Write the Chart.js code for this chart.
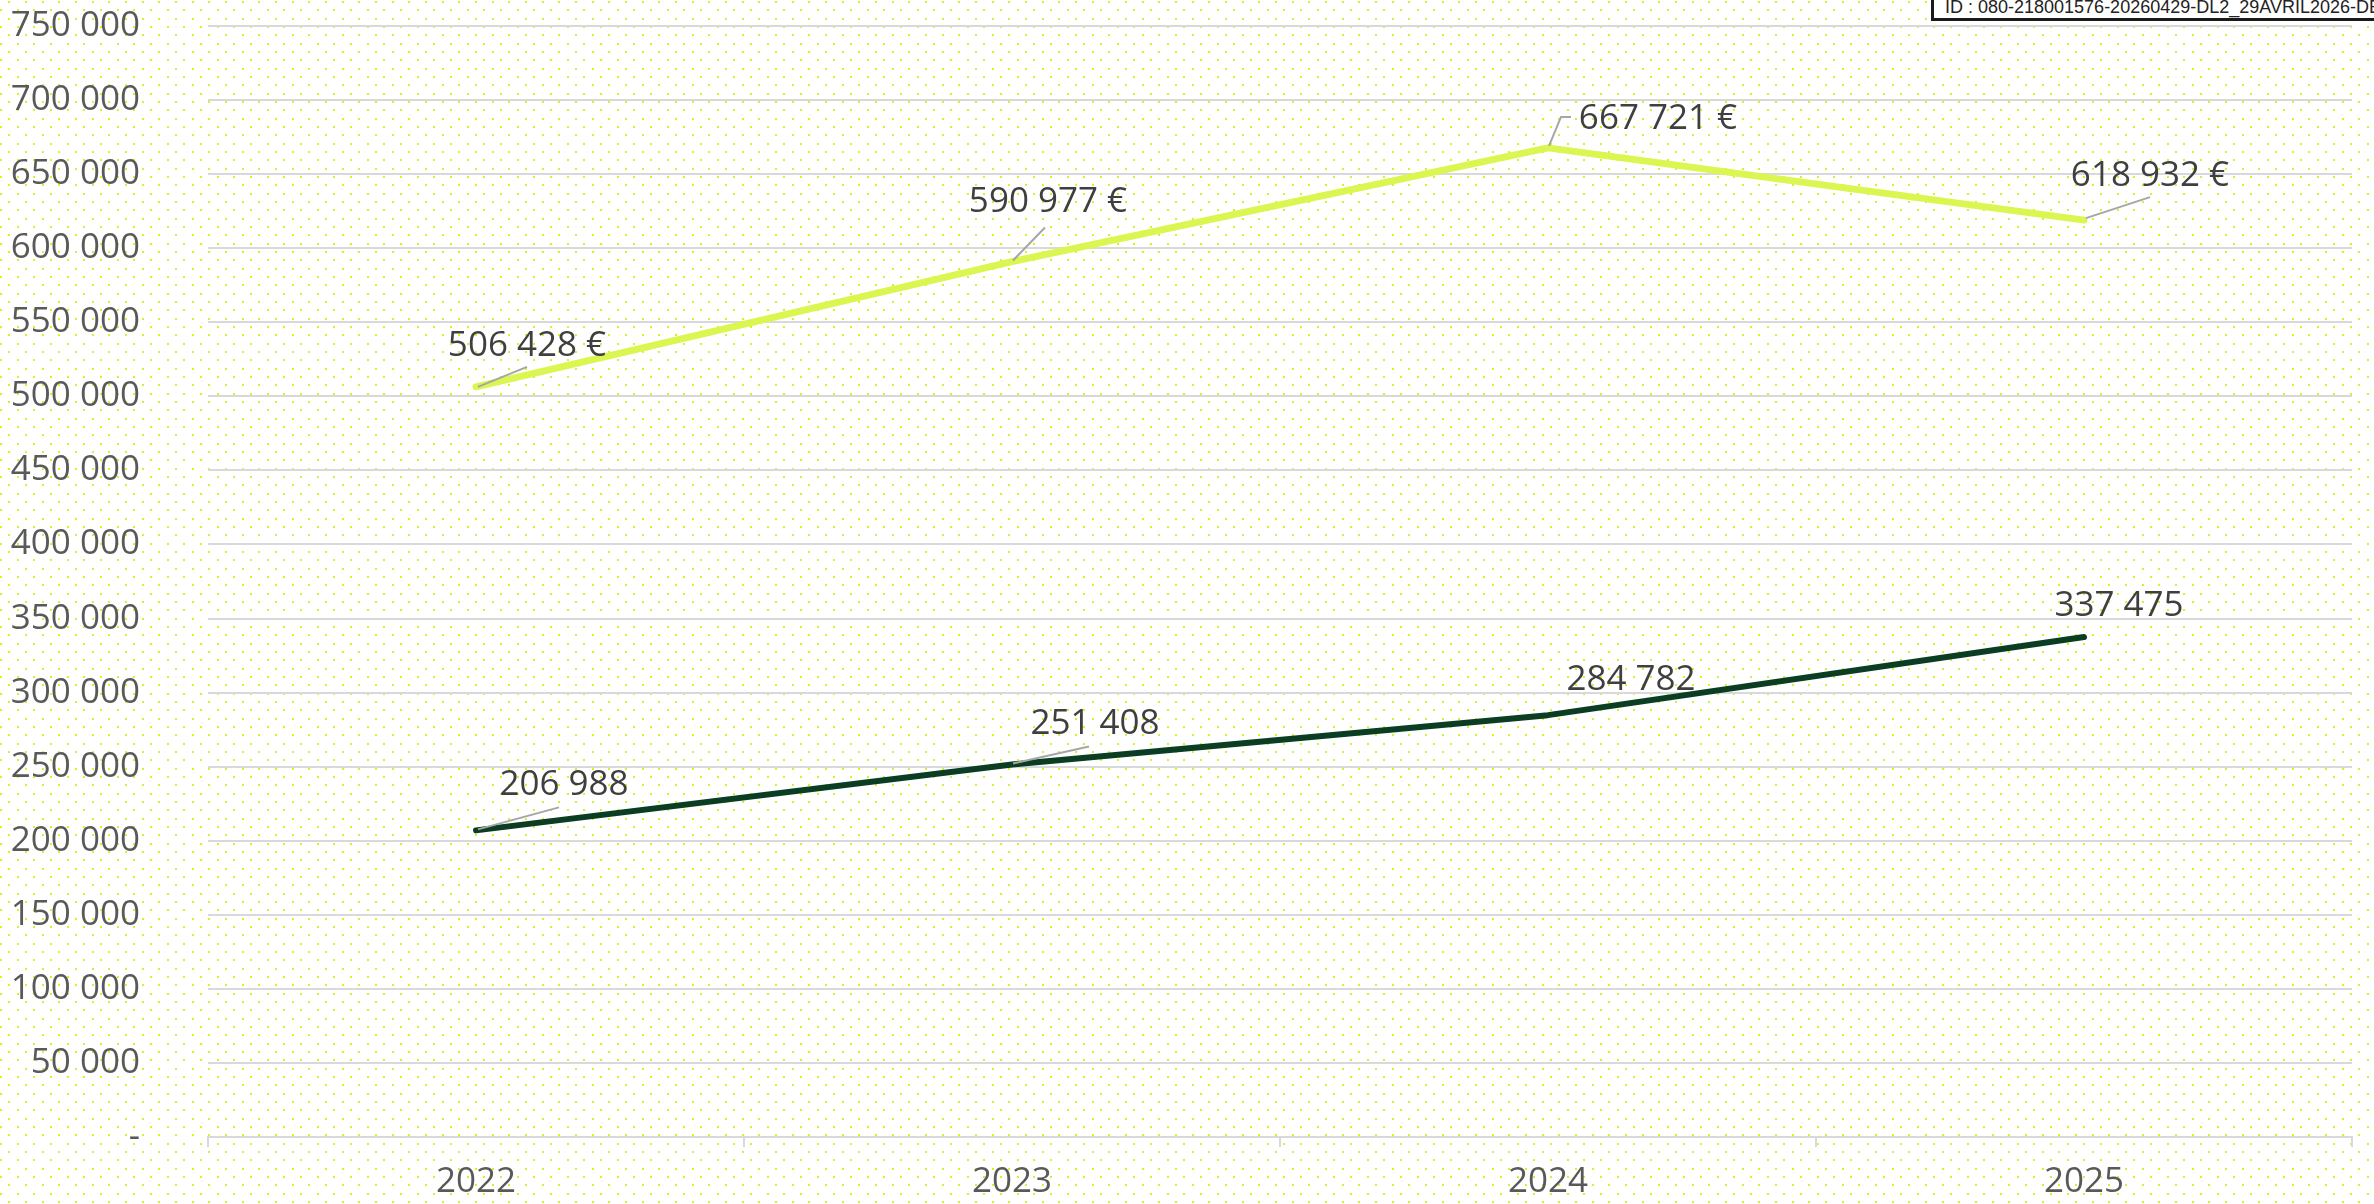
<!DOCTYPE html>
<html lang="fr">
<head>
<meta charset="utf-8">
<title>Évolution 2022-2025</title>
<script src="https://cdn.jsdelivr.net/npm/chart.js@4.4.1/dist/chart.umd.min.js"></script>
<style>
    html, body { margin: 0; padding: 0; background: #ffffff; overflow: hidden; }
    #zone { position: relative; width: 2374px; height: 1204px; }
    #graphique { display: block; }
    #cartouche {
        position: absolute;
        left: 1931px;
        top: -5px;
        width: 470px;
        height: 26px;
        border: 3px solid #1a1a1a;
        background: #ffffff;
        font-family: "Liberation Sans", Arial, sans-serif;
        font-size: 18px;
        line-height: 18px;
        color: #222222;
        padding-left: 11px;
        white-space: nowrap;
        overflow: hidden;
        box-sizing: border-box;
    }
</style>
</head>
<body>
<div id="zone">
    <canvas id="graphique" width="2374" height="1204"></canvas>
    <div id="cartouche">ID : 080-218001576-20260429-DL2_29AVRIL2026-DE</div>
</div>
<script>
// données
const annees = ["2022", "2023", "2024", "2025"];
const montantsClairs = [506428, 590977, 667721, 618932];
const montantsFonces = [206988, 251408, 284782, 337475];
const graduations = [0, 50000, 100000, 150000, 200000, 250000, 300000, 350000,
    400000, 450000, 500000, 550000, 600000, 650000, 700000, 750000];

// décalage des étiquettes (texte + trait de rappel) par rapport au point
const decalagesClairs = [
    { texte: [51, -41], trait: [[2, 0], [51, -20]] },
    { texte: [36, -60], trait: [[1, -1], [33, -34]] },
    { texte: [110, -29], trait: [[1, -2], [13, -31], [23, -31]] },
    { texte: [66, -44], trait: [[2, -2], [66, -23]] }
];
const decalagesFonces = [
    { texte: [88, -45], trait: [[2, -1], [83, -23]] },
    { texte: [83, -41], trait: [[1, -1], [77, -18]] },
    { texte: [83, -35], trait: null },
    { texte: [35, -31], trait: null }
];

const POLICE = '"Open Sans", "Noto Sans", sans-serif';

function formaterNombre(valeur) {
    return String(valeur).replace(/\B(?=(\d{3})+(?!\d))/g, " ");
}

const fondPointille = {
    id: "fondPointille",
    beforeDraw(chart) {
        const ctx = chart.ctx;
        const pas = 25 / 3;
        ctx.save();
        ctx.fillStyle = "#ffffff";
        ctx.fillRect(0, 0, chart.width, chart.height);
        ctx.fillStyle = "#d4f22a";
        let ligne = 0;
        for (let y = 1; y < chart.height; y += pas) {
            const depart = (ligne % 2 === 0) ? pas : 0;
            for (let x = depart; x < chart.width; x += pas * 2) {
                ctx.fillRect(Math.round(x), Math.round(y), 2, 2);
            }
            ligne++;
        }
        ctx.restore();
    }
};

const etiquettes = {
    id: "etiquettes",
    afterDatasetsDraw(chart) {
        const ctx = chart.ctx;
        const decalages = [decalagesClairs, decalagesFonces];
        ctx.save();
        chart.data.datasets.forEach((serie, i) => {
            const points = chart.getDatasetMeta(i).data;
            points.forEach((point, j) => {
                const d = decalages[i][j];
                if (d.trait) {
                    ctx.beginPath();
                    ctx.strokeStyle = "#a6a6a6";
                    ctx.lineWidth = 2;
                    d.trait.forEach((p, k) => {
                        if (k === 0) ctx.moveTo(point.x + p[0], point.y + p[1]);
                        else ctx.lineTo(point.x + p[0], point.y + p[1]);
                    });
                    ctx.stroke();
                }
                let texte = formaterNombre(serie.data[j]);
                if (i === 0) texte += " €";
                ctx.font = "35px " + POLICE;
                ctx.fillStyle = "#3f3f3f";
                ctx.textAlign = "center";
                ctx.textBaseline = "middle";
                ctx.fillText(texte, point.x + d.texte[0], point.y + d.texte[1]);
            });
        });
        ctx.restore();
    }
};

function creerGraphique(ctx) {
    return new Chart(ctx, {
        type: "line",
        data: {
            labels: annees,
            datasets: [{
                label: "Montant",
                data: montantsClairs,
                borderColor: "#dcf550",
                borderWidth: 7,
                borderCapStyle: "round",
                borderJoinStyle: "round",
                pointRadius: 0,
                tension: 0
            }, {
                label: "Montant (foncé)",
                data: montantsFonces,
                borderColor: "#0a3d22",
                borderWidth: 6,
                borderCapStyle: "round",
                borderJoinStyle: "round",
                pointRadius: 0,
                tension: 0
            }]
        },
        options: {
            responsive: false,
            animation: false,
            layout: { padding: { top: 26, right: 22, bottom: 1, left: 0 } },
            plugins: {
                legend: { display: false },
                tooltip: { enabled: false }
            },
            scales: {
                x: {
                    offset: true,
                    afterFit(echelle) { echelle.height = 66; },
                    grid: {
                        offset: true,
                        drawOnChartArea: false,
                        color: "#d9d9d9",
                        lineWidth: 2,
                        tickLength: 10
                    },
                    border: { color: "#d9d9d9", width: 2 },
                    ticks: {
                        color: "#595959",
                        font: { family: POLICE, size: 35 },
                        padding: 14
                    }
                },
                y: {
                    min: graduations[0],
                    max: graduations[graduations.length - 1],
                    afterFit(echelle) {
                        echelle.width = 208;
                        echelle.paddingTop = 0;
                        echelle.paddingBottom = 0;
                    },
                    afterBuildTicks(echelle) {
                        echelle.ticks = graduations.map(v => ({ value: v }));
                    },
                    grid: { color: "#d9d9d9", lineWidth: 2, drawTicks: false },
                    border: { display: false },
                    ticks: {
                        color: "#595959",
                        font: { family: POLICE, size: 35 },
                        padding: 68,
                        callback: valeur => valeur === 0 ? "-" : formaterNombre(valeur)
                    }
                }
            }
        },
        plugins: [fondPointille, etiquettes]
    });
}

window.onload = () => {
    creerGraphique(document.querySelector("#graphique"));
};
</script>
</body>
</html>
